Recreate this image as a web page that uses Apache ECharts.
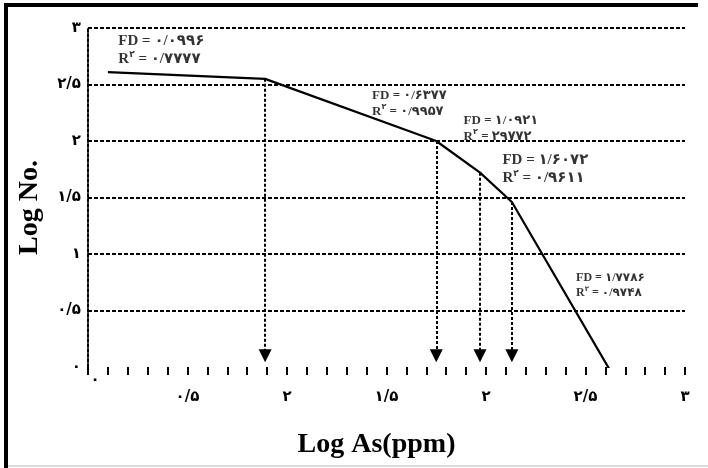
<!DOCTYPE html>
<html>
<head>
<meta charset="utf-8">
<script src="https://cdn.jsdelivr.net/npm/echarts@6/dist/echarts.min.js"></script>
<style>html,body{margin:0;padding:0;background:#fff}#c{width:708px;height:468px}</style>
</head>
<body>
<div id="c"></div>
<script>
// ---- data ----
var curveX = [0.10, 0.89, 1.75, 1.97, 2.13, 2.64];
var curveY = [2.61, 2.55, 2.00, 1.72, 1.46, -0.08];
var breakIndex = [1, 2, 3, 4];
var yTickLabels = ['۰', '۰/۵', '۱', '۱/۵', '۲', '۲/۵', '۳'];
var xTickLabels = ['۰', '۰/۵', '۲', '۱/۵', '۲', '۲/۵', '۳'];
var fdTexts = ['۰/۰۹۹۶', '۰/۶۳۷۷', '۱/۰۹۲۱', '۱/۶۰۷۲', '۱/۷۷۸۶'];
var r2Texts = ['۰/۷۷۷۷', '۰/۹۹۵۷', '۲۹۷۷۲', '۰/۹۶۱۱', '۰/۹۷۴۸'];
var annoX = [0.155, 1.43, 1.89, 2.085, 2.455];
var annoY = [2.96, 2.47, 2.25, 1.91, 0.85];
var annoSize = [15, 13, 13, 15, 12];
var xTitle = 'Log As(ppm)';
var yTitle = 'Log No.';

var FONT = "'Liberation Serif','DejaVu Sans',serif";
var DIG = "'DejaVu Sans',sans-serif";

var lineData = curveX.map(function (x, i) { return [x, curveY[i]]; });
var arrowData = breakIndex.map(function (k) {
  return [{ coord: [curveX[k], curveY[k]] }, { coord: [curveX[k], 0.1] }];
});
var annoData = annoX.map(function (x, i) {
  return {
    value: [x, annoY[i]],
    label: {
      formatter: '{b|FD = ' + fdTexts[i] + '}\n{b|R}{s|۲}{b| = ' + r2Texts[i] + '}',
      rich: {
        b: { fontFamily: FONT, fontWeight: 'bold', fontSize: annoSize[i], color: '#000', lineHeight: annoSize[i] + 3 },
        s: { fontFamily: DIG, fontWeight: 'bold', fontSize: Math.round(annoSize[i] * 0.6), color: '#000', verticalAlign: 'top', lineHeight: annoSize[i] + 3 }
      }
    }
  };
});

var chart = echarts.init(document.getElementById('c'), null, { renderer: 'canvas' });
chart.setOption({
  animation: false,
  backgroundColor: '#fff',
  grid: { left: 88, right: 23, top: 28, bottom: 101 },
  xAxis: {
    type: 'value', min: 0, max: 3, interval: 0.1,
    name: xTitle, nameLocation: 'middle', nameGap: 64,
    nameTextStyle: { fontFamily: FONT, fontWeight: 'bold', fontSize: 28, color: '#000', padding: [0, 20, 0, 0] },
    axisLine: { show: false },
    axisTick: { show: true, length: 8, lineStyle: { color: '#000', width: 2 } },
    splitLine: { show: false },
    axisLabel: {
      margin: 6, color: '#000',
      formatter: function (v) {
        var k = Math.round(v * 10);
        if (k % 5 !== 0) return '';
        if (k === 0) return '{z|' + xTickLabels[0] + '}';
        return '{n|' + xTickLabels[k / 5] + '}';
      },
      rich: {
        n: { fontFamily: DIG, fontWeight: 'bold', fontSize: 15, color: '#000', padding: [17, 0, 0, 0] },
        z: { fontFamily: DIG, fontWeight: 'bold', fontSize: 15, color: '#000', padding: [0, 0, 0, 14] }
      }
    }
  },
  yAxis: {
    type: 'value', min: 0, max: 3, interval: 0.5,
    name: yTitle, nameLocation: 'middle', nameGap: 44, nameRotate: 90,
    nameTextStyle: { fontFamily: FONT, fontWeight: 'bold', fontSize: 28, color: '#000', padding: [0, 20, 0, 0] },
    axisLine: { show: true, lineStyle: { color: '#000', width: 2, type: [3, 2] } },
    axisTick: { show: false },
    axisLabel: {
      margin: 7, fontFamily: DIG, fontWeight: 'bold', fontSize: 15, color: '#000',
      formatter: function (v) { return yTickLabels[Math.round(v * 2)]; }
    },
    splitLine: {
      show: true,
      lineStyle: { color: ['rgba(0,0,0,0)', '#000', '#000', '#000', '#000', '#000', '#000'], width: 2, type: [4, 2] }
    }
  },
  graphic: [
    { type: 'line', shape: { x1: 6, y1: 3, x2: 6, y2: 468 }, style: { stroke: '#000', lineWidth: 4 } },
    { type: 'line', shape: { x1: 4, y1: 5, x2: 698, y2: 5 }, style: { stroke: '#000', lineWidth: 4 } },
    { type: 'line', shape: { x1: 8, y1: 466, x2: 708, y2: 466 }, style: { stroke: '#ccc', lineWidth: 1.5 } }
  ],
  series: [
    {
      type: 'line', data: lineData, symbol: 'none', silent: true,
      lineStyle: { color: '#000', width: 2.2 },
      markLine: {
        silent: true, symbol: ['none', 'triangle'], symbolSize: 13,
        label: { show: false },
        lineStyle: { color: '#000', width: 2, type: [3, 2] },
        itemStyle: { color: '#000' },
        data: arrowData
      }
    },
    {
      type: 'scatter', data: annoData, symbolSize: 1, silent: true,
      itemStyle: { color: 'rgba(0,0,0,0)' },
      label: { show: true, position: [0, 0], align: 'left', verticalAlign: 'top' }
    }
  ]
});
</script>
</body>
</html>
